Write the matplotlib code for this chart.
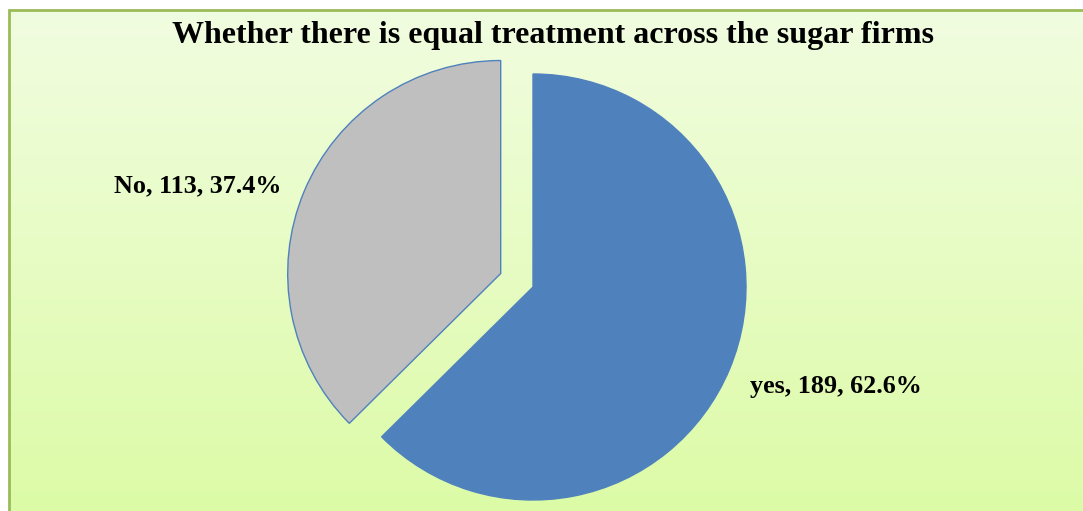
import matplotlib.pyplot as plt
import numpy as np
from matplotlib.patches import Rectangle

# chart data
labels = ["yes", "No"]
counts = [189, 113]
percents = [62.6, 37.4]
title = "Whether there is equal treatment across the sugar firms"

W, H = 1083, 511
fig = plt.figure(figsize=(W / 100, H / 100), dpi=100)
ax = fig.add_axes([0, 0, 1, 1])

# gradient background inside the chart frame
top = np.array([241, 253, 224]) / 255
bot = np.array([220, 251, 166]) / 255
t = np.linspace(0, 1, 256)[:, None]
grad = (top * (1 - t) + bot * t)[:, None, :]
ax.imshow(grad, extent=(9, W + 5, -5, H - 10), aspect='auto', zorder=0)
ax.add_patch(Rectangle((9, -5), W, H - 10 + 5, fill=False,
                       edgecolor='#9BBB59', linewidth=2, zorder=1))

# pie: only the "No" slice is pulled out
cx, cy, r = 533, H - 287, 213
wedges, _ = ax.pie(counts, colors=['#4F81BD', '#BFBFBF'], startangle=90,
                   counterclock=False, center=(cx, cy), radius=r,
                   explode=[0, 35],
                   wedgeprops=dict(edgecolor='#4F81BD', linewidth=1))
for w in wedges:
    w.set_zorder(2)

font = dict(family='Liberation Serif', weight='bold', color='black')
ax.text(553, H - 35, title, ha='center', va='center', fontsize=23, **font)
ax.text(922, H - 386, f"{labels[0]}, {counts[0]}, {percents[0]}%",
        ha='right', va='center', fontsize=18.8, **font)
ax.text(282, H - 186, f"{labels[1]}, {counts[1]}, {percents[1]}%",
        ha='right', va='center', fontsize=18.8, **font)

ax.set_xlim(0, W)
ax.set_ylim(0, H)
ax.set_aspect('auto')
ax.axis('off')
fig.savefig('out.png', dpi=100, facecolor='white')
